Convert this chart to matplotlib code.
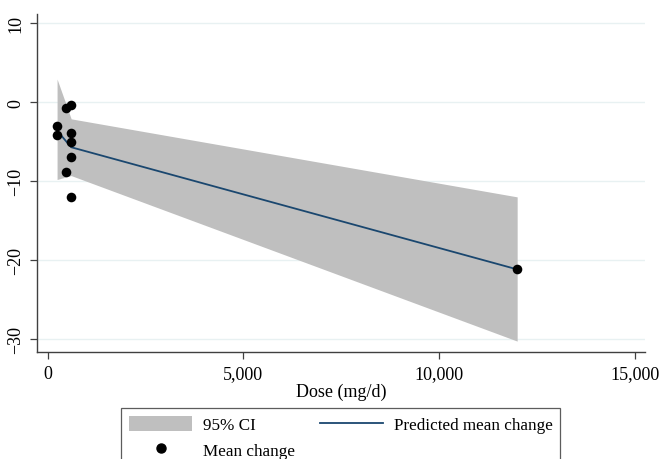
import numpy as np
import matplotlib.pyplot as plt
from matplotlib.patches import Patch
from matplotlib.lines import Line2D

plt.rcParams['font.family'] = ['Liberation Serif', 'DejaVu Serif']

# observed mean changes
dose = [240, 240, 480, 600, 600, 600, 600, 480, 600, 12000]
change = [-3.0, -4.2, -0.7, -0.4, -3.9, -5.1, -7.0, -8.8, -12.0, -21.2]

# predicted mean change and 95% CI
pred_dose = [240, 480, 600, 12000]
pred = [-3.6, -5.0, -5.7, -21.2]
ci_lo = [-9.8, -9.45, -9.3, -30.3]
ci_hi = [2.95, -0.4, -2.1, -12.0]

band_col = "#bfbfbf"
line_col = "#1a476f"

fig = plt.figure(figsize=(6.6, 4.6), dpi=100)
ax = fig.add_axes([0.0556, 0.232, 0.9217, 0.735])

for yv in [10, 0, -10, -20, -30]:
    ax.axhline(yv, color="#e8f1f2", lw=1.0, zorder=0)

ax.fill_between(pred_dose, ci_lo, ci_hi, color=band_col, lw=0, zorder=1)
ax.plot(pred_dose, pred, color=line_col, lw=1.3, zorder=2)
ax.scatter(dose, change, s=48, color="black", zorder=3, linewidths=0)

ax.set_xlim(-281, 15268)
ax.set_ylim(-31.72, 11.18)
ax.set_xticks([0, 5000, 10000, 15000])
ax.set_xticklabels(["0", "5,000", "10,000", "15,000"])
ax.set_yticks([10, 0, -10, -20, -30])
ax.set_yticklabels(["10", "0", "\u221210", "\u221220", "\u221230"], rotation=90, va="center")

for s in ["top", "right"]:
    ax.spines[s].set_visible(False)
for s in ["left", "bottom"]:
    ax.spines[s].set_color("#404040")
    ax.spines[s].set_linewidth(1.0)
ax.tick_params(axis="both", direction="out", length=5, width=0.9, color="#404040",
               labelsize=13, pad=4)
ax.set_xlabel("Dose (mg/d)", fontsize=13, labelpad=1)

handles = [
    Patch(facecolor=band_col, edgecolor="none"),
    Line2D([], [], color="black", marker="o", ls="none", markersize=6.5),
    Line2D([], [], color=line_col, lw=1.3),
]
labels = ["95% CI", "Mean change", "Predicted mean change"]
leg = fig.legend(handles, labels, ncol=2, loc="upper center",
                 bbox_to_anchor=(0.5165, 0.1102), fontsize=12.3, frameon=True,
                 fancybox=False, edgecolor="#333333", handlelength=3.7,
                 handleheight=1.0, handletextpad=0.6, columnspacing=1.5,
                 borderpad=0.45, labelspacing=0.45, borderaxespad=0)
leg.get_frame().set_linewidth(0.9)

fig.savefig("out.png", dpi=100)
